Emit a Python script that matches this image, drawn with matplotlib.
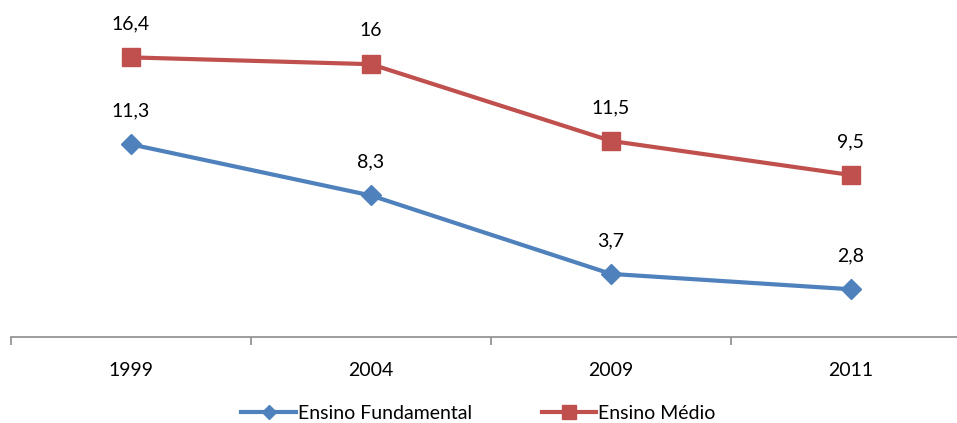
import matplotlib.pyplot as plt

years = ["1999", "2004", "2009", "2011"]
fundamental = [11.3, 8.3, 3.7, 2.8]
medio = [16.4, 16.0, 11.5, 9.5]
fundamental_labels = ["11,3", "8,3", "3,7", "2,8"]
medio_labels = ["16,4", "16", "11,5", "9,5"]

BLUE = "#4F81BD"
RED = "#C0504D"

plt.rcParams["font.family"] = ["Lato", "DejaVu Sans"]

W, H = 957, 423
fig = plt.figure(figsize=(W / 100, H / 100), dpi=100)
# axes placed in pixel terms: x from 11 to 971, y zero at 337
ax = fig.add_axes([11 / W, (H - 337) / H, 960 / W, 341 / H])
ax.set_xlim(-0.5, 3.5)
ax.set_ylim(0, 20)

x = list(range(len(years)))
ax.plot(x, fundamental, color=BLUE, lw=3, marker="D", ms=10, label="Ensino Fundamental")
ax.plot(x, medio, color=RED, lw=3, marker="s", ms=13, label="Ensino Médio")

for xi, v, t in zip(x, fundamental, fundamental_labels):
    ax.annotate(t, (xi, v), xytext=(0, 18), textcoords="offset points",
                ha="center", va="bottom", fontsize=14, color="black")
for xi, v, t in zip(x, medio, medio_labels):
    ax.annotate(t, (xi, v), xytext=(0, 18), textcoords="offset points",
                ha="center", va="bottom", fontsize=14, color="black")

for s in ["top", "right", "left"]:
    ax.spines[s].set_visible(False)
ax.spines["bottom"].set_color("#8c8c8c")
ax.spines["bottom"].set_linewidth(1.2)
ax.set_yticks([])
ax.set_xticks([-0.5, 0.5, 1.5, 2.5])
ax.set_xticklabels([])
ax.tick_params(axis="x", direction="out", length=6, color="#8c8c8c", width=1.2)
ax.set_xticks(x, minor=True)
ax.set_xticklabels(years, minor=True, fontsize=14)
ax.tick_params(axis="x", which="minor", length=0, pad=18)

fig.legend(loc="center", bbox_to_anchor=(0.5, (H - 413) / H), ncol=2, frameon=False,
           fontsize=14, handlelength=2.8, columnspacing=3.6, handletextpad=0.1,
           markerscale=0.75)

fig.savefig("out.png", dpi=100)
